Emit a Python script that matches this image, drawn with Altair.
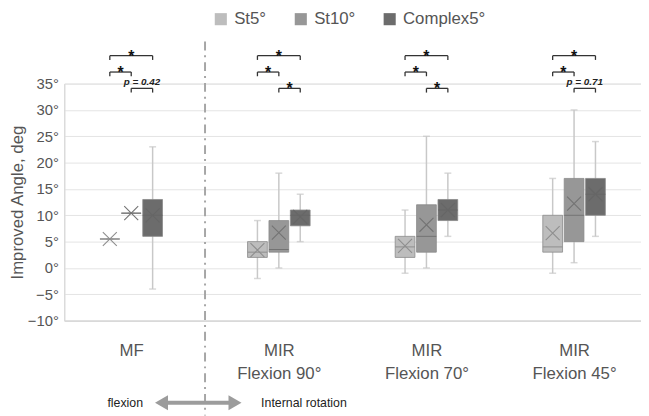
import json
import altair as alt
import pandas as pd

# ---------------- data ----------------
groups = ["MF", "MIR\nFlexion 90°", "MIR\nFlexion 70°", "MIR\nFlexion 45°"]
series = ["St5°", "St10°", "Complex5°"]

# per group: [St5, St10, Complex5]
mins    = [[5.5, 10.4, -4], [-2, 0, 5],   [-1, 0, 6],   [-1, 1, 6]]
q1s     = [[5.5, 10.4, 6],  [2, 3, 8],    [2, 3, 9],    [3, 5, 10]]
medians = [[5.5, 10.4, 10], [3, 3.5, 10], [4, 6, 11],   [4, 10, 14]]
q3s     = [[5.5, 10.4, 13], [5, 9, 11],   [6, 12, 13],  [10, 17, 17]]
maxs    = [[5.5, 10.4, 23], [9, 18, 14],  [11, 25, 18], [17, 30, 24]]
means   = [[5.5, 10.4, 10], [3.4, 6.7, 9.7], [4.2, 8.2, 11], [6.6, 12.2, 14]]

# significance brackets: (from series, to series), level (deg), label per group
bracket_pairs = [(0, 2), (0, 1), (1, 2)]
bracket_levels = [40.3, 37.2, 34.1]
bracket_labels = [["*", "*", "p = 0.42"],
                  ["*", "*", "*"],
                  ["*", "*", "*"],
                  ["*", "*", "p = 0.71"]]

divider_x = [0.5]
divider_y = [43, -28]
arrow_x = [0.205, 0.703]
arrow_y = [-25.6]
arrow_texts = ["flexion", "Internal rotation"]
arrow_text_x = [0.08, 0.88]

box_colors = ["#bdbdbd", "#979797", "#6c6c6c"]
mark_colors = ["#8e8e8e", "#737373", "#666666"]
offset = 0.145

# ---------------- tables ----------------
rows = []
for gi in range(len(groups)):
    for si, s in enumerate(series):
        rows.append(dict(series=s, x=gi + (si - 1) * offset,
                         mn=mins[gi][si], q1=q1s[gi][si], med=medians[gi][si],
                         q3=q3s[gi][si], mx=maxs[gi][si], mean=means[gi][si]))
df = pd.DataFrame(rows)

brows = []
for gi in range(len(groups)):
    for bi, (a, b) in enumerate(bracket_pairs):
        xa = gi + (a - 1) * offset
        xb = gi + (b - 1) * offset
        lab = bracket_labels[gi][bi]
        brows.append(dict(xa=xa, xb=xb, xm=(xa + xb) / 2, lev=bracket_levels[bi],
                          low=bracket_levels[bi] - 0.8, label=lab,
                          star=lab == "*"))
bdf = pd.DataFrame(brows)

FONT = "Liberation Sans"
xscale = alt.Scale(domain=[-0.42, 3.42], nice=False, zero=False)
yscale = alt.Scale(domain=[-10, 35], nice=False, zero=False)

label_arrays = json.dumps([g.split("\n") for g in groups], ensure_ascii=False)
xaxis = alt.Axis(values=[0, 1, 2, 3], labelExpr=f"{label_arrays}[datum.value]",
                 grid=False, ticks=False, domain=True, domainColor="#cfcfcf",
                 labelFontSize=17, labelColor="#555555", labelFont=FONT,
                 labelPadding=22, labelBaseline="top", labelLineHeight=24,
                 labelOverlap=False, labelFlush=False, title=None)
yaxis = alt.Axis(values=list(range(-10, 40, 5)), labelExpr="datum.label + '°'",
                 grid=True, gridColor="#e4e4e4", ticks=False, domain=True,
                 domainColor="#d6d6d6", labelFontSize=15, labelColor="#555555",
                 labelFont=FONT, labelPadding=6, title="Improved Angle, deg",
                 titleFontSize=17, titleColor="#555555", titleFont=FONT,
                 titleFontWeight="normal", titlePadding=1)

X = alt.X("x:Q", scale=xscale, axis=xaxis)
color = alt.Color("series:N", scale=alt.Scale(domain=series, range=box_colors),
                  legend=alt.Legend(orient="none", legendX=150, legendY=-74,
                                    direction="horizontal", title=None,
                                    symbolType="square", symbolSize=150,
                                    symbolStrokeWidth=0, labelFontSize=17,
                                    labelColor="#555555", labelFont=FONT,
                                    labelOffset=5, columnPadding=26, padding=0,
                                    labelLimit=200))

base = alt.Chart(df)
whisk = base.mark_rule(color="#c8c8c8", strokeWidth=1.5).encode(
    x=X, y=alt.Y("mn:Q", scale=yscale, axis=yaxis), y2="mx:Q")
caps_lo = base.mark_tick(orient="horizontal", size=7, thickness=1.5,
                         color="#c8c8c8").encode(x=X, y=alt.Y("mn:Q", scale=yscale, axis=yaxis))
caps_hi = base.mark_tick(orient="horizontal", size=7, thickness=1.5,
                         color="#c8c8c8").encode(x=X, y=alt.Y("mx:Q", scale=yscale, axis=yaxis))
boxes = base.mark_bar(size=20, stroke="#8a8a8a", strokeWidth=0.8, opacity=1).encode(
    x=X, y=alt.Y("q1:Q", scale=yscale, axis=yaxis), y2="q3:Q", color=color)
med = base.mark_tick(orient="horizontal", size=20, thickness=1, opacity=1).encode(
    x=X, y=alt.Y("med:Q", scale=yscale, axis=yaxis),
    fill=alt.Fill("series:N", scale=alt.Scale(domain=series, range=mark_colors),
                  legend=None))
mean = base.mark_point(shape="M-1,-1L1,1M-1,1L1,-1", size=200, filled=False,
                       strokeWidth=1.1, opacity=1).encode(
    x=X, y=alt.Y("mean:Q", scale=yscale, axis=yaxis),
    stroke=alt.Stroke("series:N", scale=alt.Scale(domain=series, range=mark_colors),
                      legend=None))

bbase = alt.Chart(bdf)
bh = bbase.mark_rule(color="#333333", strokeWidth=1.3).encode(
    x=alt.X("xa:Q", scale=xscale, axis=xaxis), x2="xb:Q",
    y=alt.Y("lev:Q", scale=yscale, axis=yaxis))
bva = bbase.mark_rule(color="#333333", strokeWidth=1.3).encode(
    x=alt.X("xa:Q", scale=xscale, axis=xaxis),
    y=alt.Y("lev:Q", scale=yscale, axis=yaxis), y2="low:Q")
bvb = bbase.mark_rule(color="#333333", strokeWidth=1.3).encode(
    x=alt.X("xb:Q", scale=xscale, axis=xaxis),
    y=alt.Y("lev:Q", scale=yscale, axis=yaxis), y2="low:Q")
stars = bbase.transform_filter("datum.star").mark_text(
    font=FONT, fontSize=16, fontWeight="bold", color="#111111",
    baseline="alphabetic", dy=6).encode(
    x=alt.X("xm:Q", scale=xscale, axis=xaxis),
    y=alt.Y("lev:Q", scale=yscale, axis=yaxis), text="label:N")
ptxt = bbase.transform_filter("!datum.star").mark_text(
    font=FONT, fontSize=10, fontWeight="bold", fontStyle="italic",
    color="#222222", baseline="alphabetic", dy=-3).encode(
    x=alt.X("xm:Q", scale=xscale, axis=xaxis),
    y=alt.Y("lev:Q", scale=yscale, axis=yaxis), text="label:N")

ddf = pd.DataFrame(dict(x=divider_x, y=[divider_y[0]], y2=[divider_y[1]]))
divider = alt.Chart(ddf).mark_rule(color="#a6a6a6", strokeWidth=2,
                                   strokeDash=[9, 5, 2, 5]).encode(
    x=alt.X("x:Q", scale=xscale, axis=xaxis),
    y=alt.Y("y:Q", scale=yscale, axis=yaxis), y2="y2:Q")

adf = pd.DataFrame(dict(x=[arrow_x[0]], x2=[arrow_x[1]], y=arrow_y))
shaft = alt.Chart(adf).mark_rule(color="#9c9c9c", strokeWidth=4).encode(
    x=alt.X("x:Q", scale=xscale, axis=xaxis), x2="x2:Q",
    y=alt.Y("y:Q", scale=yscale, axis=yaxis))
hdf = pd.DataFrame(dict(x=arrow_x, y=arrow_y * 2,
                        shape=["triangle-left", "triangle-right"]))
heads = alt.Chart(hdf).mark_point(filled=True, size=230, color="#9c9c9c",
                                  opacity=1).encode(
    x=alt.X("x:Q", scale=xscale, axis=xaxis),
    y=alt.Y("y:Q", scale=yscale, axis=yaxis),
    shape=alt.Shape("shape:N", scale=None, legend=None))
tdf = pd.DataFrame(dict(x=arrow_text_x, y=arrow_y * 2, t=arrow_texts))
tl = alt.Chart(tdf.iloc[[0]]).mark_text(font=FONT, fontSize=12.5, color="#222222",
                                         align="right", baseline="middle").encode(
    x=alt.X("x:Q", scale=xscale, axis=xaxis),
    y=alt.Y("y:Q", scale=yscale, axis=yaxis), text="t:N")
tr = alt.Chart(tdf.iloc[[1]]).mark_text(font=FONT, fontSize=12.5, color="#222222",
                                         align="left", baseline="middle").encode(
    x=alt.X("x:Q", scale=xscale, axis=xaxis),
    y=alt.Y("y:Q", scale=yscale, axis=yaxis), text="t:N")

chart = alt.layer(divider, whisk, caps_lo, caps_hi, boxes, med, mean,
                  bh, bva, bvb, stars, ptxt, shaft, heads, tl, tr).properties(
    width=584, height=240,
    autosize=alt.AutoSizeParams(type="none"),
    padding={"left": 57, "top": 74, "right": 0, "bottom": 94},
).configure_view(stroke=None).configure(background="white")

chart.save("out.html", embed_options={"renderer": "svg", "actions": False})
